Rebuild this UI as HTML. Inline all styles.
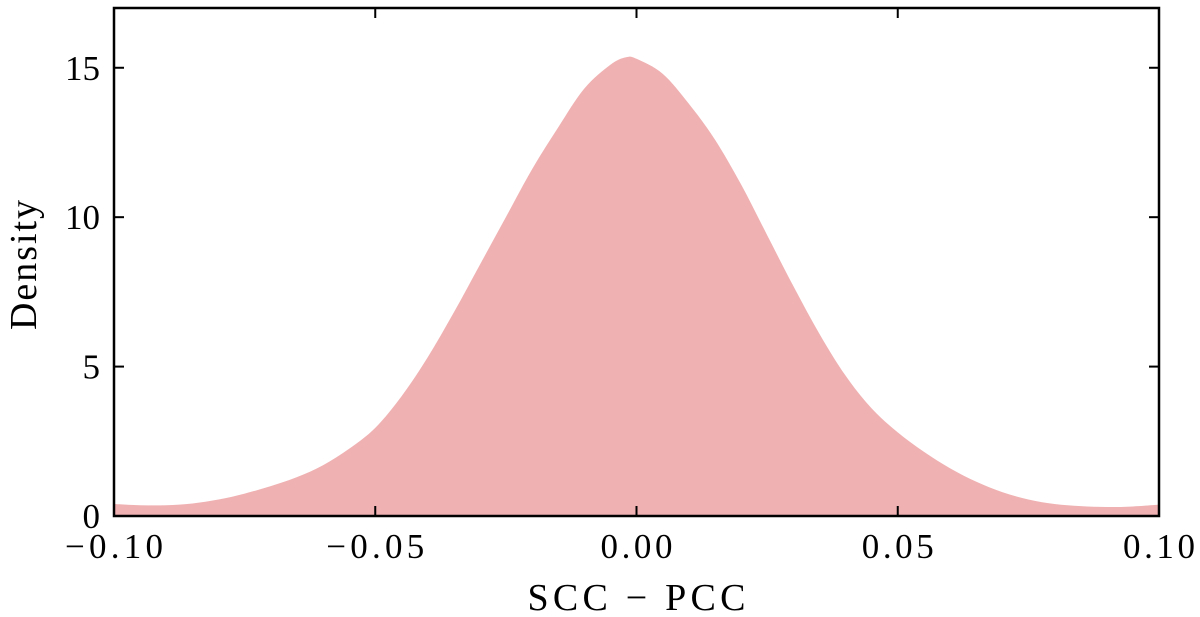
<!DOCTYPE html>
<html><head><meta charset="utf-8">
<style>
html,body{margin:0;padding:0;background:#fff;}
svg{display:block;font-family:"Liberation Serif","DejaVu Serif",serif;}
</style></head>
<body>
<svg id="chart" width="1200" height="617" viewBox="0 0 1200 617" xmlns="http://www.w3.org/2000/svg">
<g id="plot"></g>
</svg>
<script>
const xs = [-0.100,-0.095,-0.090,-0.085,-0.080,-0.075,-0.070,-0.065,-0.060,-0.055,-0.050,-0.045,-0.040,-0.035,-0.030,-0.025,-0.020,-0.015,-0.010,-0.005,-0.002,0.000,0.005,0.010,0.015,0.020,0.025,0.030,0.035,0.040,0.045,0.050,0.055,0.060,0.065,0.070,0.075,0.080,0.085,0.090,0.095,0.100];
const densities = [0.40,0.36,0.36,0.42,0.55,0.75,1.0,1.3,1.7,2.25,2.95,4.0,5.3,6.8,8.4,10.0,11.6,13.0,14.3,15.1,15.35,15.3,14.8,13.8,12.6,11.1,9.4,7.7,6.1,4.7,3.6,2.8,2.15,1.6,1.15,0.8,0.55,0.4,0.33,0.3,0.32,0.38];
const xTicks = [-0.10,-0.05,0.00,0.05,0.10];
const xTickLabels = ["\u22120.10","\u22120.05","0.00","0.05","0.10"];
const yTicks = [0,5,10,15];
const yTickLabels = ["0","5","10","15"];

const L=114,R=1159,T=8,B=516, xmin=-0.1,xmax=0.1,ymin=0,ymax=17;
const sx=v=>L+(v-xmin)/(xmax-xmin)*(R-L);
const sy=v=>B-(v-ymin)/(ymax-ymin)*(B-T);
const NS="http://www.w3.org/2000/svg";
const g=document.getElementById('plot');
function mk(tag,attrs){const e=document.createElementNS(NS,tag);for(const k in attrs)e.setAttribute(k,attrs[k]);g.appendChild(e);return e;}

const P=xs.map((x,i)=>[sx(x),sy(densities[i])]);
let d=`M${sx(xs[0])},${sy(0)} L${P[0][0]},${P[0][1]}`;
for(let i=0;i<P.length-1;i++){
  const p0=P[Math.max(0,i-1)],p1=P[i],p2=P[i+1],p3=P[Math.min(P.length-1,i+2)];
  const c1=[p1[0]+(p2[0]-p0[0])/6,p1[1]+(p2[1]-p0[1])/6];
  const c2=[p2[0]-(p3[0]-p1[0])/6,p2[1]-(p3[1]-p1[1])/6];
  d+=` C${c1[0].toFixed(2)},${c1[1].toFixed(2)} ${c2[0].toFixed(2)},${c2[1].toFixed(2)} ${p2[0].toFixed(2)},${p2[1].toFixed(2)}`;
}
d+=` L${sx(xs[xs.length-1])},${sy(0)} Z`;
const area=mk('path',{d:d,fill:'#f0b1b2',stroke:'none'});



xTicks.forEach((v,i)=>{
  const x=sx(v);
  const t1=mk('line',{x1:x,x2:x,y1:B,y2:B-10,stroke:'#000','stroke-width':2});
  
  
  const t2=mk('line',{x1:x,x2:x,y1:T,y2:T+10,stroke:'#000','stroke-width':2});
  
  
  const tx=mk('text',{x:x,y:B+42,'text-anchor':'middle','font-size':35});
  tx.setAttribute('textLength', xTickLabels[i].length===5?98:72);
  tx.textContent=xTickLabels[i];
  
  
});
yTicks.forEach((v,i)=>{
  const y=sy(v);
  const t1=mk('line',{x1:L,x2:L+10,y1:y,y2:y,stroke:'#000','stroke-width':2});
  
  
  const t2=mk('line',{x1:R,x2:R-10,y1:y,y2:y,stroke:'#000','stroke-width':2});
  
  
  const tx=mk('text',{x:L-14,y:y+12,'text-anchor':'end','font-size':35});
  tx.textContent=yTickLabels[i];
  
  
});
const frame=mk('rect',{x:L,y:T,width:R-L,height:B-T,fill:'none',stroke:'#000','stroke-width':2.5});


const xl=mk('text',{x:(L+R)/2,y:610,'text-anchor':'middle','font-size':38,textLength:218});
xl.textContent='SCC \u2212 PCC';


const yl=mk('text',{x:0,y:0,'text-anchor':'middle','font-size':38,textLength:130,transform:`translate(36,${(T+B)/2+3}) rotate(-90)`});
yl.textContent='Density';


</script>
</body></html>
